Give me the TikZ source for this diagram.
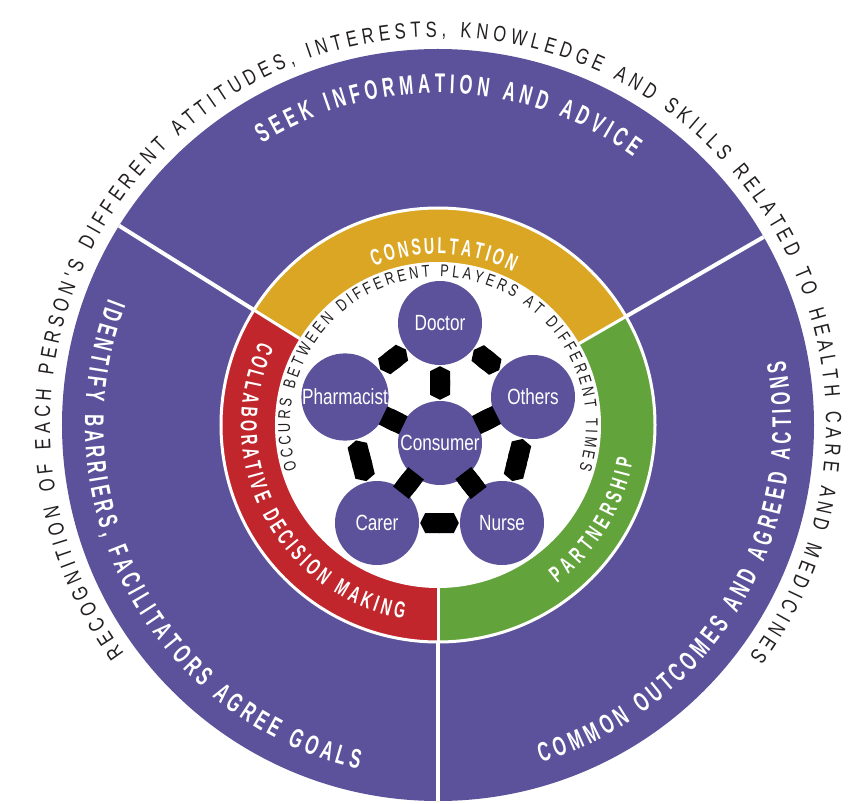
\documentclass[tikz,border=0pt]{standalone}
\usepackage{fontspec}
\setmainfont{Liberation Sans}
\newfontfamily\playerfont[FakeStretch=0.78]{Liberation Sans}
\newfontfamily\bandfont[FakeStretch=0.62]{Liberation Sans}
\newfontfamily\rimfont[FakeStretch=0.75]{Liberation Sans}
\usetikzlibrary{decorations.text,arrows.meta}

\definecolor{circlepurple}{RGB}{91,82,155}
\definecolor{consultgold}{RGB}{218,166,36}
\definecolor{decisionred}{RGB}{192,38,44}
\definecolor{partnergreen}{RGB}{98,164,59}
\definecolor{rimgray}{RGB}{35,31,32}

\newcommand\sectorfont{\bandfont\bfseries\fontsize{27}{27}\selectfont}
\newcommand\ringfont{\bandfont\bfseries\fontsize{23}{23}\selectfont}
\newcommand\occursfont{\rimfont\fontsize{17}{17}\selectfont}
\newcommand\outerfont{\rimfont\fontsize{22}{22}\selectfont}

\tikzset{
  player/.style={circle, fill=circlepurple, minimum size=84pt, inner sep=0pt,
    text=white, font=\playerfont\fontsize{22}{22}\selectfont},
  link/.style={line width=20pt, {Triangle Cap[length=5pt]}-{Triangle Cap[length=5pt]},
    shorten <=1pt, shorten >=1pt},
  divider/.style={white, line width=4pt},
  whitetext/.style={decorate, decoration={text along path, text align={fit to path}, text color=white}},
  darktext/.style={decorate, decoration={text along path, text align={fit to path}, text color=rimgray}},
}

\begin{document}
\begin{tikzpicture}[x=1pt,y=1pt]
\useasboundingbox (-438,-378) rectangle (412,425);

% big disc, cut in three
\fill[circlepurple] (0,0) circle (376);
\foreach \a in {30,148,270}
  \draw[divider] (\a:217) -- (\a:376);

% coloured band
\foreach \s/\e/\c in {30/148/consultgold, 148/270/decisionred, 270/390/partnergreen}
  \fill[\c] (0,0) -- (\s:217) arc[start angle=\s, end angle=\e, radius=217] -- cycle;
\fill[white] (0,0) circle (163);
\draw[white, line width=3pt] (0,0) circle (217);
\foreach \a in {30,148,270}
  \draw[white, line width=3pt] (\a:163) -- (\a:217);

% text round the rim
\path[darktext, decoration={text={|\outerfont|RECOGNITION OF EACH PERSON'S DIFFERENT ATTITUDES, INTERESTS, KNOWLEDGE AND SKILLS RELATED TO HEALTH CARE AND MEDICINES}}]
  (216:388) arc[start angle=216, end angle=-36.5, radius=388];

% sector labels
\path[whitetext, decoration={text={|\sectorfont|SEEK INFORMATION AND ADVICE}}]
  (122:332) arc[start angle=122, end angle=54, radius=332];
\path[whitetext, decoration={text={|\sectorfont|IDENTIFY BARRIERS, FACILITATORS AGREE GOALS}}]
  (159:353) arc[start angle=159, end angle=257, radius=353];
\path[whitetext, decoration={text={|\sectorfont|COMMON OUTCOMES AND AGREED ACTIONS}}]
  (287:353) arc[start angle=287, end angle=370.5, radius=353];

% band labels
\path[whitetext, decoration={text={|\ringfont|CONSULTATION}}]
  (112:171) arc[start angle=112, end angle=64, radius=171];
\path[whitetext, decoration={text={|\ringfont|COLLABORATIVE DECISION MAKING}}]
  (155:197) arc[start angle=155, end angle=260, radius=197];
\path[whitetext, decoration={text={|\ringfont|PARTNERSHIP}}]
  (-53:198) arc[start angle=-53, end angle=-10, radius=198];
\path[darktext, decoration={text={|\occursfont|OCCURS BETWEEN DIFFERENT PLAYERS AT DIFFERENT TIMES}}]
  (197.5:148) arc[start angle=197.5, end angle=-17.5, radius=148];

% the players
\node[player] (consumer) at (2,-18) {Consumer};
\node[player] (doctor) at (2,102) {Doctor};
\node[player] (pharmacist) at (-93,28) {Pharmacist};
\node[player] (others) at (95,28) {Others};
\node[player] (carer) at (-61,-98) {Carer};
\node[player] (nurse) at (64,-98) {Nurse};

\foreach \p/\q in {doctor/others, others/nurse, nurse/carer, carer/pharmacist, pharmacist/doctor}
  \draw[link] (\p) -- (\q);
\foreach \p in {doctor, others, nurse, carer, pharmacist}
  \draw[link] (consumer) -- (\p);

\end{tikzpicture}
\end{document}
